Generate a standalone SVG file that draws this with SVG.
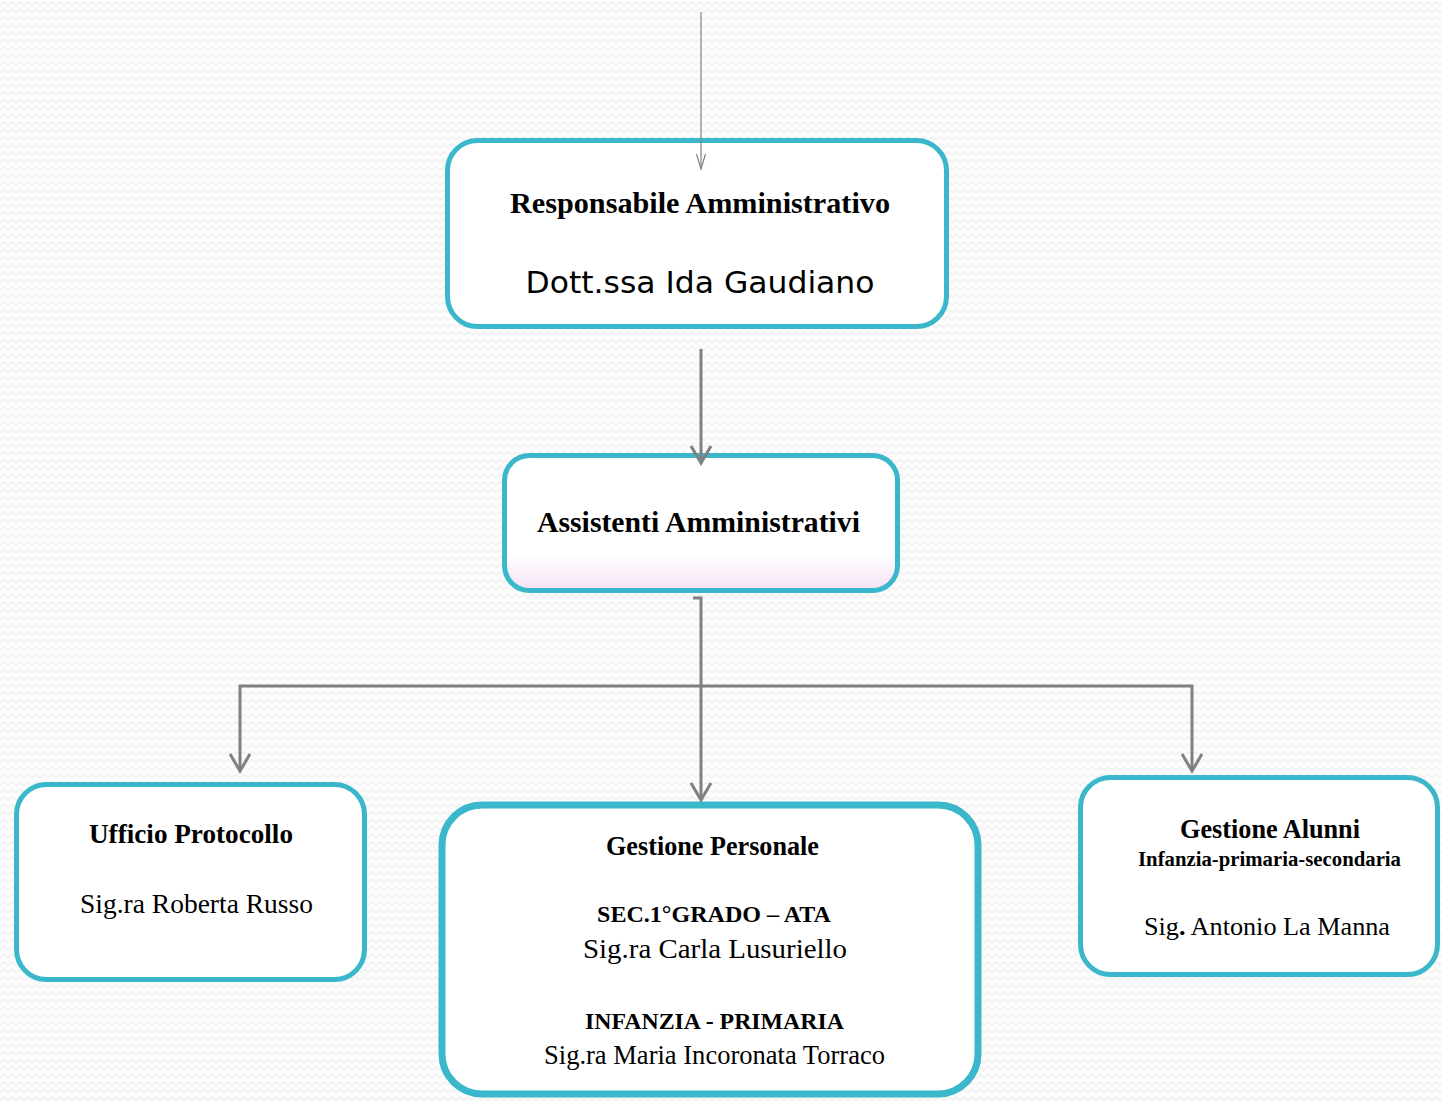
<svg xmlns="http://www.w3.org/2000/svg" width="1442" height="1101" viewBox="0 0 1442 1101">
  <defs>
    <pattern id="zig" x="0" y="0" width="8" height="7.5" patternUnits="userSpaceOnUse">
      <rect width="8" height="7.5" fill="#fcfcfc"/>
      <polyline points="0,5 4,2 8,5" fill="none" stroke="#eeeeee" stroke-width="1.2"/>
    </pattern>
    <linearGradient id="pinkfade" x1="0" y1="0" x2="0" y2="1">
      <stop offset="0" stop-color="#ffffff"/>
      <stop offset="0.72" stop-color="#ffffff"/>
      <stop offset="1" stop-color="#f4e2f4"/>
    </linearGradient>
    <marker id="arrThick" markerUnits="userSpaceOnUse" markerWidth="40" markerHeight="40" viewBox="-20 -20 40 40" refX="0" refY="0" orient="auto">
      <path d="M-17,-10 L0,0 L-17,10" fill="none" stroke="#808080" stroke-width="3"/>
    </marker>
    <marker id="arrThin" markerUnits="userSpaceOnUse" markerWidth="30" markerHeight="30" viewBox="-15 -15 30 30" refX="0" refY="0" orient="auto">
      <path d="M-15,-4.5 L0,0 L-15,4.5" fill="none" stroke="#808080" stroke-width="1.2"/>
    </marker>
  </defs>
  <style>
    .box { fill: #ffffff; stroke: #3ab7ca; stroke-width: 5; }
    .conn { fill: none; stroke: #808080; stroke-width: 3; }
    .thin { fill: none; stroke: #808080; stroke-width: 1.2; }
    .b { font-family: "Liberation Serif", "Times New Roman", serif; font-weight: bold; fill: #000; text-anchor: middle; }
    .r { font-family: "Liberation Serif", "Times New Roman", serif; fill: #000; text-anchor: middle; }
    .s { font-family: "DejaVu Sans", Verdana, sans-serif; fill: #000; text-anchor: middle; }
  </style>

  <rect width="1442" height="1101" fill="url(#zig)"/>

  <g id="node-responsabile">
    <rect class="box" x="447.5" y="140.5" width="499" height="186" rx="30"/>
    <text class="b" x="700" y="213" font-size="30" textLength="380" lengthAdjust="spacingAndGlyphs">Responsabile Amministrativo</text>
    <text class="s" x="700" y="293" font-size="31" textLength="349" lengthAdjust="spacingAndGlyphs">Dott.ssa Ida Gaudiano</text>
  </g>

  <g id="node-assistenti">
    <rect class="box" x="504.5" y="455.5" width="393" height="135" rx="25" style="fill:url(#pinkfade)"/>
    <text class="b" x="698.5" y="532" font-size="30" textLength="323" lengthAdjust="spacingAndGlyphs">Assistenti Amministrativi</text>
  </g>

  <g id="node-protocollo">
    <rect class="box" x="16.5" y="784.5" width="348" height="195" rx="30"/>
    <text class="b" x="191" y="843" font-size="27" textLength="204" lengthAdjust="spacingAndGlyphs">Ufficio Protocollo</text>
    <text class="r" x="196.5" y="913" font-size="27" textLength="233" lengthAdjust="spacingAndGlyphs">Sig.ra Roberta Russo</text>
  </g>

  <g id="node-personale">
    <rect class="box" x="442" y="805" width="536" height="289" rx="40" style="stroke-width:7"/>
    <text class="b" x="712.5" y="855" font-size="27" textLength="213" lengthAdjust="spacingAndGlyphs">Gestione Personale</text>
    <text class="b" x="714" y="922" font-size="23" textLength="234" lengthAdjust="spacingAndGlyphs">SEC.1°GRADO – ATA</text>
    <text class="r" x="715" y="958" font-size="28" textLength="264" lengthAdjust="spacingAndGlyphs">Sig.ra Carla Lusuriello</text>
    <text class="b" x="714.5" y="1029" font-size="23" textLength="259" lengthAdjust="spacingAndGlyphs">INFANZIA - PRIMARIA</text>
    <text class="r" x="714.5" y="1064" font-size="26.5" textLength="341" lengthAdjust="spacingAndGlyphs">Sig.ra Maria Incoronata Torraco</text>
  </g>

  <g id="node-alunni">
    <rect class="box" x="1080.5" y="777.5" width="357" height="197" rx="30"/>
    <text class="b" x="1270" y="838" font-size="27" textLength="180" lengthAdjust="spacingAndGlyphs">Gestione Alunni</text>
    <text class="b" x="1269.5" y="866" font-size="20" textLength="263" lengthAdjust="spacingAndGlyphs">Infanzia-primaria-secondaria</text>
    <text class="r" x="1267" y="935" font-size="26" textLength="246" lengthAdjust="spacingAndGlyphs">Sig<tspan font-weight="bold">.</tspan> Antonio La Manna</text>
  </g>

  <g id="connectors">
    <path class="thin" d="M701,12 V169" marker-end="url(#arrThin)"/>
    <path class="conn" d="M701,349 V463" marker-end="url(#arrThick)"/>
    <path class="conn" d="M693,598 H701 V800" marker-end="url(#arrThick)"/>
    <path class="conn" d="M701,686 H240 V771" marker-end="url(#arrThick)"/>
    <path class="conn" d="M701,686 H1192 V771" marker-end="url(#arrThick)"/>
  </g>
</svg>
